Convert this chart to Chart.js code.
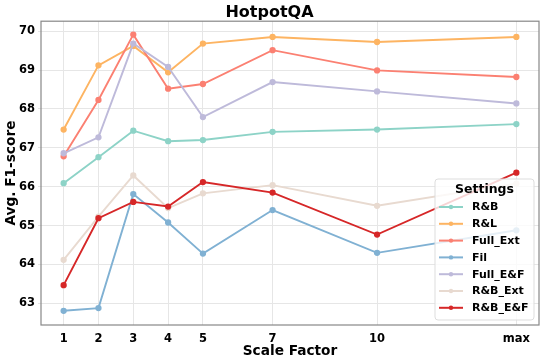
<!DOCTYPE html>
<html>
<head>
<meta charset="utf-8">
<script src="https://cdn.jsdelivr.net/npm/chart.js@4.4.0/dist/chart.umd.min.js"></script>
<style>
  html, body { margin: 0; padding: 0; background: #fff; }
  #wrap { width: 545px; height: 362px; }
</style>
</head>
<body>
<div id="wrap"><canvas id="LineChart" width="545" height="362"></canvas></div>
<script>
// scale factors (max plotted at 14) and their tick labels
const scaleFactors = [1, 2, 3, 4, 5, 7, 10, 14];
const scaleLabels = ['1', '2', '3', '4', '5', '7', '10', 'max'];
const yTicks = [63, 64, 65, 66, 67, 68, 69, 70];

const settings = ['R&B', 'R&L', 'Full_Ext', 'Fil', 'Full_E&F', 'R&B_Ext', 'R&B_E&F'];
const rb_data      = [66.09, 66.76, 67.44, 67.17, 67.20, 67.41, 67.47, 67.61];
const rl_data      = [67.47, 69.12, 69.62, 68.94, 69.68, 69.85, 69.72, 69.85];
const fullExt_data = [66.78, 68.23, 69.91, 68.52, 68.64, 69.51, 68.99, 68.82];
const fil_data     = [62.81, 62.88, 65.81, 65.08, 64.28, 65.40, 64.30, 64.88];
const fullEF_data  = [66.86, 67.27, 69.68, 69.08, 67.79, 68.69, 68.45, 68.14];
const rbExt_data   = [64.12, 65.23, 66.29, 65.45, 65.83, 66.04, 65.51, 66.08];
const rbEF_data    = [63.47, 65.19, 65.61, 65.49, 66.12, 65.85, 64.77, 66.36];

const colors = ['#8dd3c7', '#fdb462', '#fb8072', '#80b1d3', '#bebada', '#e8dad0', '#d62728'];
const series = [rb_data, rl_data, fullExt_data, fil_data, fullEF_data, rbExt_data, rbEF_data];

const font = 'DejaVu Sans';

const datasets = settings.map((name, i) => ({
    label: name,
    data: series[i].map((v, j) => ({x: scaleFactors[j], y: v})),
    borderColor: colors[i],
    backgroundColor: colors[i],
    borderWidth: 1.9,
    pointRadius: 2.2,
    pointHoverRadius: 3,
    tension: 0,
    order: settings.length - i
}));

// legend drawn inside the plot, lower right, like matplotlib
const insideLegend = {
    id: 'insideLegend',
    afterDraw(chart) {
        const ctx = chart.ctx;
        const x0 = 435, y0 = 179, w = 99, h = 141;
        ctx.save();
        ctx.beginPath();
        ctx.roundRect(x0, y0, w, h, 3);
        ctx.fillStyle = 'rgba(255,255,255,0.8)';
        ctx.fill();
        ctx.strokeStyle = '#dddddd';
        ctx.lineWidth = 1;
        ctx.stroke();
        ctx.fillStyle = '#000';
        ctx.textBaseline = 'middle';
        ctx.textAlign = 'center';
        ctx.font = 'bold 12.5px ' + font;
        ctx.fillText('Settings', 484.5, 190);
        ctx.textAlign = 'left';
        ctx.font = 'bold 11px ' + font;
        chart.data.datasets.forEach((ds, i) => {
            const y = 207 + i * 16.8;
            ctx.strokeStyle = ds.borderColor;
            ctx.lineWidth = 2;
            ctx.beginPath();
            ctx.moveTo(439, y);
            ctx.lineTo(463, y);
            ctx.stroke();
            ctx.fillStyle = ds.borderColor;
            ctx.beginPath();
            ctx.arc(451, y, 2.2, 0, Math.PI * 2);
            ctx.fill();
            ctx.fillStyle = '#000';
            ctx.fillText(ds.label, 472, y + 0.5);
        });
        ctx.restore();
    }
};

// grey box around the plot area
const frame = {
    id: 'frame',
    afterDatasetsDraw(chart) {
        const a = chart.chartArea;
        const ctx = chart.ctx;
        ctx.save();
        ctx.strokeStyle = '#888888';
        ctx.lineWidth = 1.2;
        ctx.strokeRect(a.left, a.top, a.right - a.left, a.bottom - a.top);
        ctx.restore();
    }
};

const configLine = {
    type: 'line',
    data: {datasets: datasets},
    options: {
        responsive: false,
        animation: false,
        layout: {padding: {left: 0, right: 6, top: 0, bottom: 0}},
        plugins: {
            legend: {display: false},
            tooltip: {enabled: false},
            title: {
                display: true,
                text: 'HotpotQA',
                color: '#000',
                font: {family: font, size: 16, weight: 'bold'},
                padding: {top: 3, bottom: -1}
            }
        },
        scales: {
            x: {
                type: 'linear',
                min: 0.35,
                max: 14.65,
                afterBuildTicks: (scale) => { scale.ticks = scaleFactors.map(v => ({value: v})); },
                afterFit: (scale) => { scale.height = 37; },
                ticks: {
                    color: '#000',
                    padding: 7,
                    maxRotation: 0,
                    font: {family: font, size: 11.5, weight: 'bold'},
                    callback: (v) => scaleLabels[scaleFactors.indexOf(v)]
                },
                grid: {color: '#e6e6e6', drawTicks: false, tickLength: 0},
                border: {display: false},
                title: {
                    display: true,
                    text: 'Scale Factor',
                    color: '#000',
                    font: {family: font, size: 13.7, weight: 'bold'},
                    padding: {top: 0, bottom: 2}
                }
            },
            y: {
                min: 62.445,
                max: 70.255,
                afterBuildTicks: (scale) => { scale.ticks = yTicks.map(v => ({value: v})); },
                afterFit: (scale) => { scale.width = 41; },
                ticks: {
                    color: '#000',
                    padding: 3,
                    font: {family: font, size: 11.5, weight: 'bold'}
                },
                grid: {color: '#e6e6e6', drawTicks: true, tickLength: 3},
                border: {display: false},
                title: {
                    display: true,
                    text: 'Avg. F1-score',
                    color: '#000',
                    font: {family: font, size: 13.7, weight: 'bold'},
                    padding: {top: 3, bottom: 0}
                }
            }
        }
    },
    plugins: [frame, insideLegend]
};

const LineChart = new Chart(
    document.getElementById('LineChart'),
    configLine
);
</script>
</body>
</html>
